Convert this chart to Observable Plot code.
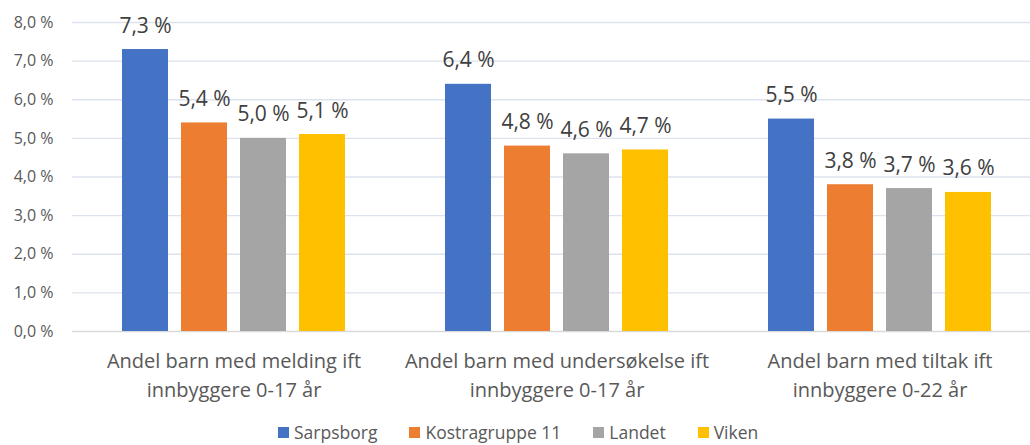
<!DOCTYPE html>
<html>
<head>
<meta charset="utf-8">
<script src="https://cdn.jsdelivr.net/npm/d3@7"></script>
<script src="https://cdn.jsdelivr.net/npm/@observablehq/plot@0.6"></script>
<style>
  body { margin: 0; background: #fff; }
  #wrap { position: relative; width: 1030px; height: 445px; overflow: hidden; font-family: "Open Sans", sans-serif; }
  #legend { position: absolute; left: 278px; top: 422px; height: 20px; display: flex; align-items: center; font-size: 17.5px; line-height: 20px; color: #595959; }
  .item { display: flex; align-items: center; margin-right: 32px; }
  .sw { width: 11px; height: 11px; margin-right: 5px; }
</style>
</head>
<body>
<div id="wrap"><div id="chart"></div><div id="legend"></div></div>
<script>
const categories = [
  "Andel barn med melding ift\ninnbyggere 0-17 år",
  "Andel barn med undersøkelse ift\ninnbyggere 0-17 år",
  "Andel barn med tiltak ift\ninnbyggere 0-22 år"
];
const series = ["Sarpsborg", "Kostragruppe 11", "Landet", "Viken"];
const sarpsborg = [7.3, 6.4, 5.5];
const kostragruppe11 = [5.4, 4.8, 3.8];
const landet = [5.0, 4.6, 3.7];
const viken = [5.1, 4.7, 3.6];
const colors = ["#4472C4", "#ED7D31", "#A5A5A5", "#FFC000"];
const yTicks = [0, 1, 2, 3, 4, 5, 6, 7, 8];

const seriesValues = [sarpsborg, kostragruppe11, landet, viken];
const data = [];
categories.forEach((c, i) => series.forEach((s, j) => data.push({category: c, series: s, value: seriesValues[j][i]})));
const fmt = d => d.toFixed(1).replace(".", ",") + " %";

const chart = Plot.plot({
  width: 1030,
  height: 420,
  marginLeft: 72,
  marginRight: -11,
  marginTop: 22,
  marginBottom: 89,
  style: {fontFamily: "'Open Sans', sans-serif", color: "#595959", background: "transparent"},
  fx: {domain: categories, padding: 0, label: null},
  x: {domain: series, paddingInner: 0.22, paddingOuter: 0.847, axis: null},
  y: {domain: [0, 8], label: null},
  color: {domain: series, range: colors},
  marks: [
    Plot.ruleY(yTicks.filter(d => d > 0), {stroke: "#DCE3EE", strokeWidth: 1.3}),
    Plot.ruleY([0], {stroke: "#D9D9D9", strokeWidth: 1.3}),
    Plot.barY(data, {fx: "category", x: "series", y: "value", fill: "series"}),
    Plot.text(data, {fx: "category", x: "series", y: "value", text: d => fmt(d.value), dy: -17, lineAnchor: "bottom", fontSize: 21, fill: "#404040"}),
    Plot.axisY(yTicks, {tickSize: 0, tickPadding: 19, tickFormat: fmt, fontSize: 16, fill: "#595959", label: null}),
    Plot.axisFx({anchor: "bottom", tickSize: 0, tickPadding: 16, fontSize: 20, lineHeight: 1.45, fill: "#595959", label: null})
  ]
});
document.getElementById("chart").appendChild(chart);

const legend = document.getElementById("legend");
series.forEach((s, i) => {
  const it = document.createElement("div");
  it.className = "item";
  const sw = document.createElement("div");
  sw.className = "sw";
  sw.style.background = colors[i];
  const t = document.createElement("span");
  t.textContent = s;
  it.appendChild(sw); it.appendChild(t);
  legend.appendChild(it);
});
</script>
</body>
</html>
